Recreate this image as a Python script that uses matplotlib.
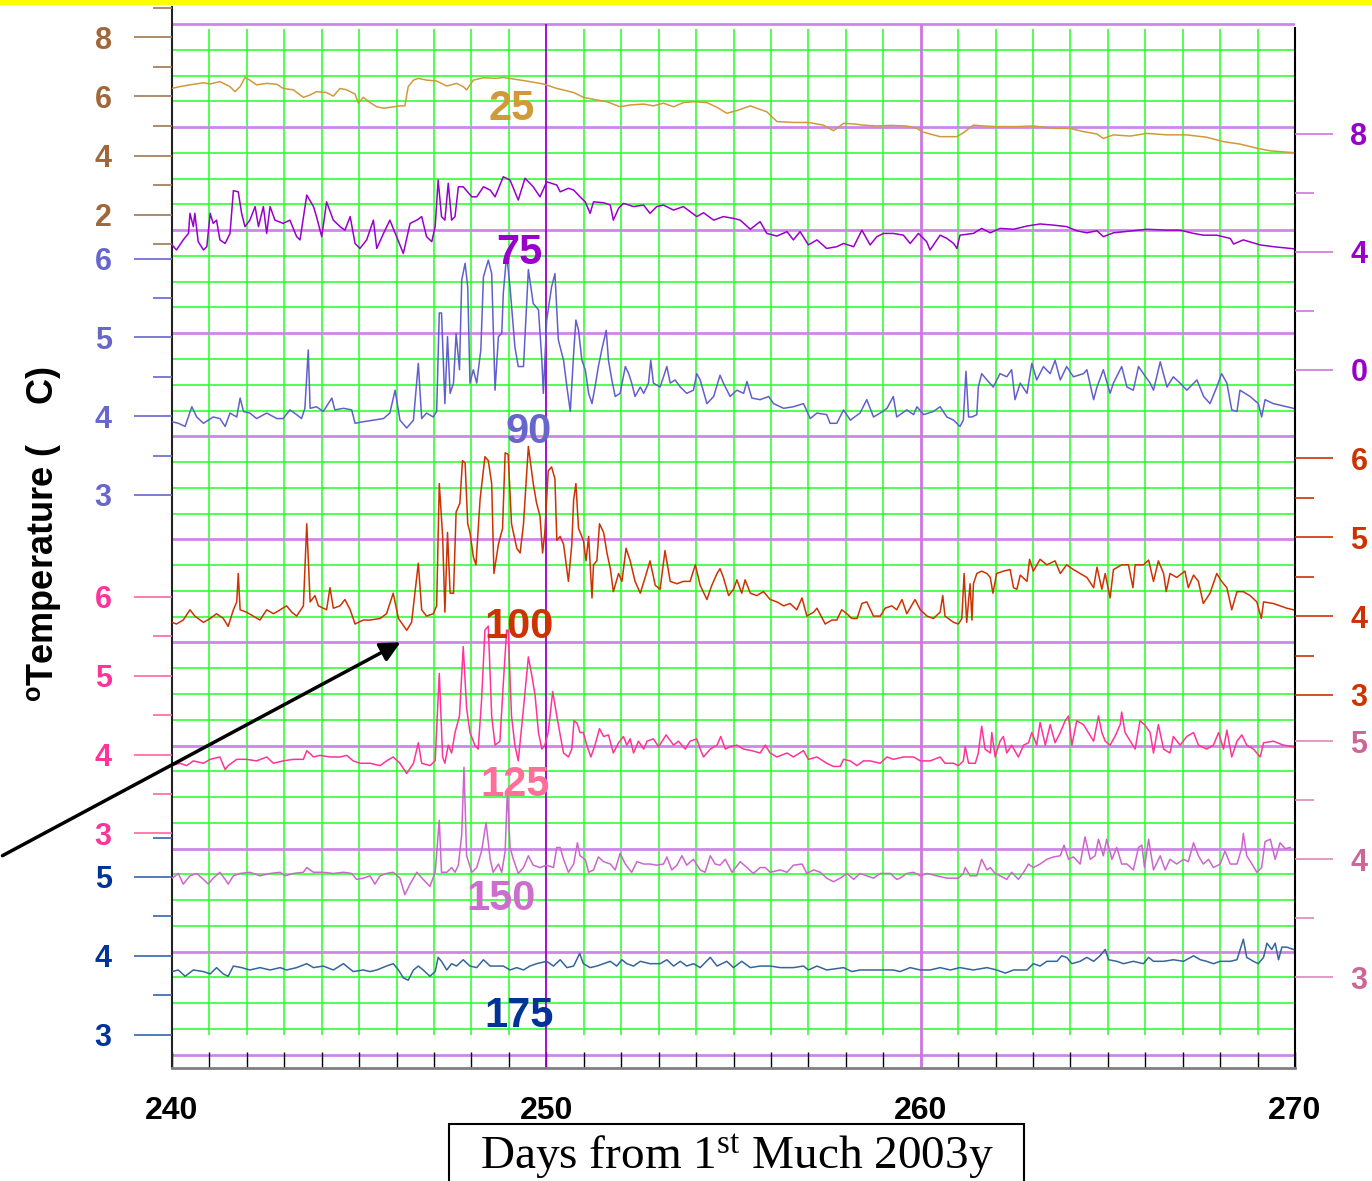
import numpy as np
import matplotlib
matplotlib.use('Agg')
import matplotlib.pyplot as plt
from matplotlib.patches import Rectangle, FancyArrowPatch

plt.rcParams['font.family'] = ['Liberation Sans', 'DejaVu Sans']
plt.rcParams['mathtext.fontset'] = 'custom'
plt.rcParams['mathtext.rm'] = 'Liberation Serif'
plt.rcParams['mathtext.it'] = 'Liberation Serif:italic'
plt.rcParams['mathtext.bf'] = 'Liberation Sans:bold'

# ---------------- data: (day, temperature) ----------------
pts25 = [(240.00,6.27),(240.21,6.33),(240.48,6.39),(240.84,6.46),(241.02,6.42),(241.28,6.50),(241.55,6.33),(241.68,6.16),
(241.82,6.33),(241.95,6.64),(242.08,6.55),(242.26,6.39),(242.53,6.44),(242.80,6.41),(242.97,6.27),(243.24,6.22),(243.51,5.97),
(243.69,6.05),(243.86,6.16),(244.13,6.13),(244.31,6.01),(244.49,6.27),(244.67,6.22),(244.89,6.08),(244.98,5.77),(245.11,5.97),
(245.29,5.79),(245.47,5.65),(245.65,5.60),(245.82,5.63),(246.09,5.68),(246.22,5.68),(246.31,6.33),(246.45,6.55),(246.58,6.61),
(246.80,6.55),(247.07,6.52),(247.34,6.35),(247.60,6.44),(247.78,6.33),(247.87,6.22),(248.05,6.55),(248.32,6.63),(248.67,6.61),
(248.85,6.64),(249.21,6.57),(249.56,6.50),(249.92,6.42),(250.28,6.27),(250.73,6.13),(250.99,5.97),(251.26,5.90),(251.62,5.82),
(251.97,5.65),(252.24,5.71),(252.60,5.74),(252.86,5.68),(253.13,5.77),(253.40,5.65),(253.66,5.79),(253.93,5.82),(254.29,5.79),
(254.56,5.63),(254.82,5.43),(255.09,5.52),(255.45,5.68),(255.62,5.60),(255.89,5.48),(256.16,5.15),(256.60,5.12),(257.00,5.12),
(257.40,5.03),(257.67,4.84),(257.94,5.09),(258.21,5.07),(258.47,5.03),(258.83,5.00),(259.19,5.02),(259.63,5.00),(259.90,4.92),
(260.03,4.81),(260.34,4.70),(260.52,4.64),(260.97,4.64),(261.14,4.77),(261.41,5.03),(261.68,5.00),(262.03,4.98),(262.57,4.98),
(263.01,5.00),(263.55,4.92),(263.99,4.92),(264.35,4.81),(264.71,4.73),(264.88,4.58),(265.15,4.70),(265.60,4.66),(266.04,4.75),
(266.58,4.70),(267.11,4.70),(267.64,4.62),(268.09,4.47),(268.53,4.39),(268.98,4.25),(269.34,4.16),(269.96,4.10)]

pts75 = [(240.00,4.23),(240.12,4.06),(240.30,4.40),(240.44,4.62),(240.48,5.30),(240.57,4.85),(240.61,5.30),(240.70,4.34),
(240.84,4.06),(240.93,4.17),(241.02,5.30),(241.10,4.96),(241.19,5.07),(241.28,4.40),(241.42,4.28),(241.55,4.62),(241.64,6.07),
(241.77,6.03),(241.86,5.30),(241.95,4.85),(242.08,5.07),(242.22,5.53),(242.31,4.85),(242.44,5.53),(242.53,4.62),(242.62,5.53),
(242.75,5.07),(242.97,4.96),(243.15,5.07),(243.33,4.51),(243.42,4.40),(243.60,5.92),(243.78,5.53),(243.86,5.19),(244.00,4.51),
(244.13,5.69),(244.31,5.07),(244.49,4.85),(244.62,4.73),(244.76,5.19),(244.89,4.28),(245.02,4.11),(245.20,4.40),(245.38,5.07),
(245.47,4.11),(245.65,4.62),(245.82,5.07),(246.00,4.51),(246.18,3.94),(246.36,4.96),(246.54,5.07),(246.67,5.19),(246.80,4.51),
(246.94,4.34),(247.03,4.85),(247.11,6.43),(247.20,5.19),(247.29,5.07),(247.38,6.32),(247.47,5.07),(247.56,5.19),(247.65,6.20),
(247.78,6.20),(248.01,5.86),(248.14,5.86),(248.32,6.20),(248.50,6.09),(248.63,5.86),(248.85,6.54),(249.03,6.43),(249.25,5.75),
(249.43,6.49),(249.65,6.20),(249.83,5.86),(250.01,6.37),(250.28,6.26),(250.37,6.03),(250.59,6.15),(250.73,6.09),(250.90,5.86),
(251.04,5.69),(251.17,5.30),(251.26,5.69),(251.53,5.66),(251.71,5.58),(251.79,5.07),(251.93,5.47),(252.06,5.64),(252.33,5.53),
(252.60,5.58),(252.77,5.30),(252.95,5.53),(253.13,5.58),(253.40,5.41),(253.66,5.53),(253.84,5.36),(254.02,5.19),(254.20,5.32),
(254.47,5.07),(254.73,5.19),(255.00,5.13),(255.18,5.07),(255.45,4.76),(255.71,5.02),(255.89,4.62),(256.16,4.53),(256.43,4.68),
(256.60,4.40),(256.78,4.68),(257.00,4.23),(257.23,4.40),(257.49,4.11),(257.76,4.17),(257.94,4.28),(258.21,4.17),(258.43,4.73),
(258.65,4.23),(258.83,4.51),(259.01,4.62),(259.27,4.62),(259.54,4.56),(259.72,4.28),(259.94,4.62),(260.16,4.34),(260.25,4.06),
(260.52,4.56),(260.70,4.45),(260.88,4.28),(260.97,4.11),(261.05,4.56),(261.41,4.62),(261.63,4.79),(261.86,4.64),(262.12,4.79),
(262.48,4.76),(262.84,4.87),(263.19,4.94),(263.55,4.90),(263.90,4.85),(264.17,4.71),(264.44,4.64),(264.71,4.71),(264.88,4.51),
(265.15,4.64),(265.60,4.70),(266.04,4.76),(266.58,4.73),(266.93,4.73),(267.29,4.62),(267.55,4.56),(267.91,4.56),(268.27,4.45),
(268.36,4.26),(268.62,4.40),(269.07,4.23),(269.42,4.17),(269.96,4.10)]

pts90 = [(240.00,3.93),(240.17,3.91),(240.35,3.87),(240.53,4.12),(240.66,3.99),(240.84,3.91),(241.10,3.99),(241.28,3.97),
(241.42,3.87),(241.55,4.04),(241.73,3.99),(241.82,4.23),(241.91,4.06),(242.08,4.04),(242.26,3.97),(242.53,4.04),(242.80,3.97),
(242.97,3.97),(243.15,4.08),(243.33,4.02),(243.46,3.97),(243.55,4.10),(243.64,4.84),(243.69,4.10),(243.86,4.12),(244.04,4.06),
(244.27,4.23),(244.35,4.08),(244.58,4.10),(244.80,4.08),(244.89,3.91),(245.11,3.93),(245.38,3.95),(245.65,3.97),(245.82,4.04),
(245.96,4.33),(246.09,3.95),(246.27,3.85),(246.45,3.95),(246.58,4.67),(246.67,3.97),(246.80,4.04),(246.98,3.99),(247.07,4.06),
(247.14,5.31),(247.20,5.31),(247.29,4.16),(247.36,5.01),(247.43,4.29),(247.52,4.42),(247.59,5.05),(247.68,4.59),(247.74,5.73),
(247.83,5.94),(247.90,5.64),(247.96,4.42),(248.05,4.59),(248.14,4.42),(248.25,4.84),(248.32,5.77),(248.45,5.98),(248.54,5.81),
(248.63,4.33),(248.72,5.01),(248.81,5.05),(248.85,5.56),(248.94,6.05),(249.03,5.64),(249.16,4.88),(249.25,4.63),(249.39,4.63),
(249.52,5.86),(249.65,5.43),(249.79,5.35),(249.88,4.71),(249.92,4.29),(250.01,5.22),(250.14,5.64),(250.23,5.81),(250.32,4.97),
(250.46,4.71),(250.55,4.37),(250.64,4.06),(250.73,4.80),(250.79,5.22),(250.86,5.09),(250.95,4.71),(251.04,4.59),(251.13,4.29),
(251.22,4.16),(251.30,4.37),(251.39,4.63),(251.48,4.84),(251.60,5.09),(251.66,4.71),(251.75,4.46),(251.84,4.25),(251.97,4.29),
(252.11,4.63),(252.20,4.54),(252.28,4.42),(252.37,4.25),(252.51,4.37),(252.60,4.29),(252.73,4.42),(252.79,4.71),(252.86,4.42),
(253.04,4.37),(253.22,4.63),(253.31,4.42),(253.44,4.46),(253.58,4.37),(253.75,4.29),(253.93,4.33),(254.02,4.54),(254.11,4.46),
(254.29,4.16),(254.47,4.25),(254.64,4.52),(254.73,4.42),(254.91,4.25),(255.09,4.33),(255.27,4.29),(255.36,4.44),(255.49,4.23),
(255.71,4.21),(255.94,4.25),(256.07,4.16),(256.34,4.10),(256.60,4.12),(256.87,4.16),(257.05,3.97),(257.23,4.04),(257.49,4.02),
(257.58,3.91),(257.76,3.91),(257.94,4.08),(258.12,3.95),(258.38,4.04),(258.56,4.21),(258.74,3.99),(258.92,4.04),(259.10,4.10),
(259.27,4.25),(259.36,3.99),(259.63,4.08),(259.81,4.02),(259.90,4.12),(260.08,4.02),(260.34,4.06),(260.52,4.12),(260.70,3.99),
(260.88,3.95),(261.05,3.87),(261.14,3.95),(261.21,4.57),(261.28,3.99),(261.37,3.99),(261.50,4.02),(261.54,4.37),(261.63,4.54),
(261.77,4.46),(261.94,4.37),(262.12,4.54),(262.30,4.50),(262.43,4.59),(262.52,4.21),(262.66,4.42),(262.84,4.29),(262.97,4.67),
(263.10,4.46),(263.28,4.63),(263.46,4.54),(263.59,4.71),(263.73,4.46),(263.90,4.63),(264.08,4.50),(264.35,4.54),(264.44,4.59),
(264.62,4.21),(264.71,4.37),(264.88,4.59),(265.06,4.29),(265.15,4.42),(265.37,4.63),(265.51,4.37),(265.68,4.33),(265.82,4.63),
(265.95,4.54),(266.13,4.42),(266.22,4.33),(266.40,4.69),(266.58,4.37),(266.75,4.50),(266.93,4.42),(267.11,4.33),(267.38,4.46),
(267.56,4.25),(267.73,4.16),(267.91,4.37),(268.04,4.54),(268.18,4.42),(268.31,4.08),(268.45,4.06),(268.53,4.33),(268.80,4.25),
(269.02,4.16),(269.11,3.99),(269.20,4.21),(269.42,4.16),(269.78,4.12),(269.96,4.10)]

pts100 = [(240.00,3.92),(240.12,3.90),(240.30,3.95),(240.48,4.08),(240.61,4.00),(240.84,3.92),(241.02,3.97),(241.19,4.03),
(241.37,3.97),(241.50,3.87),(241.64,4.08),(241.73,4.18),(241.77,4.54),(241.82,4.08),(241.99,4.05),(242.17,4.00),(242.35,3.95),
(242.53,4.08),(242.71,4.03),(242.89,4.08),(243.06,4.13),(243.20,4.05),(243.33,4.00),(243.51,4.13),(243.60,5.17),(243.69,4.18),
(243.82,4.26),(243.91,4.13),(244.13,4.08),(244.22,4.36),(244.31,4.10),(244.49,4.13),(244.62,4.21),(244.76,4.08),(244.89,3.90),
(245.11,3.95),(245.29,3.95),(245.56,3.97),(245.73,4.03),(245.91,4.29),(246.05,3.97),(246.27,3.82),(246.40,3.92),(246.58,4.67),
(246.67,4.08),(246.80,4.00),(246.98,4.03),(247.07,4.13),(247.14,5.68),(247.23,5.01),(247.29,4.05),(247.36,5.06),(247.43,4.29),
(247.52,4.29),(247.59,5.32),(247.69,5.43),(247.76,5.97),(247.83,5.94),(247.90,5.17),(247.96,5.06),(248.05,4.75),(248.12,4.65),
(248.23,5.48),(248.36,6.02),(248.45,5.97),(248.54,5.68),(248.60,4.54),(248.72,4.91),(248.83,5.11),(248.90,6.07),(248.98,6.05),
(249.07,5.17),(249.21,4.86),(249.30,4.80),(249.39,5.17),(249.52,6.15),(249.65,5.68),(249.74,5.43),(249.83,5.27),(249.90,4.80),
(249.96,5.06),(250.05,5.84),(250.14,5.89),(250.23,5.74),(250.28,4.96),(250.37,5.01),(250.46,4.91),(250.59,4.44),(250.68,4.91),
(250.73,5.48),(250.79,5.68),(250.86,5.11),(250.99,4.96),(251.06,4.70),(251.13,5.01),(251.22,4.23),(251.26,4.65),(251.35,4.70),
(251.42,5.17),(251.53,5.06),(251.62,4.80),(251.71,4.60),(251.79,4.31),(251.93,4.54),(252.02,4.44),(252.13,4.86),(252.24,4.70),
(252.37,4.44),(252.51,4.29),(252.64,4.49),(252.77,4.70),(252.91,4.39),(253.04,4.34),(253.17,4.83),(253.31,4.44),(253.49,4.41),
(253.66,4.44),(253.84,4.44),(253.98,4.65),(254.11,4.39),(254.29,4.21),(254.42,4.39),(254.56,4.54),(254.64,4.60),(254.73,4.49),
(254.87,4.26),(255.00,4.34),(255.09,4.46),(255.22,4.29),(255.31,4.46),(255.45,4.29),(255.62,4.26),(255.80,4.31),(255.98,4.21),
(256.16,4.18),(256.34,4.13),(256.51,4.16),(256.69,4.08),(256.83,4.23),(256.96,4.00),(257.14,4.05),(257.23,4.10),(257.45,3.90),
(257.63,3.95),(257.76,3.95),(257.89,4.08),(258.03,4.03),(258.16,3.97),(258.30,3.97),(258.43,4.16),(258.56,4.18),(258.74,4.00),
(258.92,4.00),(259.05,4.10),(259.23,4.13),(259.36,4.08),(259.50,4.21),(259.63,4.03),(259.85,4.21),(259.99,4.08),(260.17,4.00),
(260.34,3.97),(260.52,4.05),(260.59,4.26),(260.65,4.00),(260.88,3.92),(261.01,3.90),(261.10,3.97),(261.16,4.54),(261.23,3.92),
(261.32,4.41),(261.37,3.95),(261.41,4.41),(261.50,4.54),(261.63,4.57),(261.77,4.54),(261.86,4.49),(261.93,4.29),(262.03,4.54),
(262.21,4.57),(262.39,4.59),(262.48,4.36),(262.57,4.34),(262.66,4.52),(262.84,4.44),(262.91,4.72),(263.01,4.57),(263.19,4.72),
(263.37,4.65),(263.59,4.70),(263.73,4.54),(263.90,4.65),(264.08,4.59),(264.26,4.54),(264.44,4.49),(264.62,4.36),(264.71,4.62),
(264.84,4.34),(264.93,4.54),(265.06,4.23),(265.15,4.59),(265.37,4.65),(265.55,4.65),(265.67,4.36),(265.73,4.65),(265.95,4.65),
(266.09,4.71),(266.22,4.44),(266.35,4.70),(266.49,4.54),(266.56,4.31),(266.66,4.54),(266.84,4.49),(267.06,4.57),(267.15,4.36),
(267.29,4.52),(267.42,4.44),(267.55,4.16),(267.73,4.29),(267.91,4.54),(268.04,4.44),(268.18,4.36),(268.31,4.08),(268.45,4.31),
(268.62,4.31),(268.80,4.26),(268.98,4.18),(269.10,3.97),(269.16,4.18),(269.42,4.16),(269.78,4.10),(269.96,4.08)]

pts125 = [(240.00,3.86),(240.21,3.89),(240.39,3.86),(240.57,3.92),(240.84,3.89),(241.02,3.94),(241.28,3.97),(241.42,3.81),
(241.50,3.86),(241.73,3.94),(241.99,3.94),(242.26,3.92),(242.53,3.97),(242.71,3.89),(242.97,3.92),(243.24,3.94),(243.51,3.94),
(243.60,4.05),(243.78,3.97),(243.95,3.99),(244.22,3.97),(244.49,3.97),(244.67,3.99),(244.84,3.92),(245.02,3.89),(245.29,3.89),
(245.56,3.86),(245.73,3.92),(245.91,3.97),(246.09,3.89),(246.27,3.76),(246.45,3.89),(246.58,4.15),(246.67,3.89),(246.89,3.86),
(247.03,3.92),(247.14,5.03),(247.23,3.97),(247.29,3.89),(247.38,4.12),(247.47,4.02),(247.56,4.28),(247.68,4.49),(247.78,5.37),
(247.87,4.59),(247.96,4.28),(248.09,4.12),(248.18,4.07),(248.27,4.69),(248.36,5.58),(248.45,5.63),(248.54,4.49),(248.63,4.12),
(248.76,4.17),(248.85,4.90),(248.94,5.58),(248.98,5.58),(249.07,4.49),(249.16,4.12),(249.25,3.92),(249.39,4.59),(249.52,5.24),
(249.61,5.01),(249.70,4.75),(249.79,4.28),(249.88,4.07),(249.96,4.12),(250.05,4.28),(250.17,4.80),(250.28,4.49),(250.37,4.25),
(250.46,4.02),(250.59,3.97),(250.68,4.07),(250.74,4.43),(250.82,4.40),(250.90,4.28),(250.99,4.28),(251.08,4.12),(251.19,3.97),
(251.30,4.12),(251.42,4.33),(251.53,4.23),(251.66,4.25),(251.79,4.02),(251.93,4.15),(252.06,4.23),(252.15,4.12),(252.24,4.20),
(252.33,4.02),(252.46,4.17),(252.60,4.07),(252.69,4.17),(252.86,4.20),(253.00,4.10),(253.20,4.25),(253.40,4.12),(253.53,4.17),
(253.71,4.07),(253.84,4.17),(254.02,4.20),(254.11,4.07),(254.20,3.97),(254.38,4.07),(254.56,4.12),(254.66,4.23),(254.78,4.07),
(254.91,4.10),(255.09,4.12),(255.27,4.07),(255.49,4.05),(255.71,4.02),(255.85,4.12),(255.98,4.02),(256.16,3.97),(256.43,4.02),
(256.60,3.97),(256.87,4.05),(257.00,3.94),(257.23,3.97),(257.49,3.89),(257.67,3.85),(257.85,3.85),(257.94,3.94),(258.12,3.92),
(258.30,3.86),(258.47,3.92),(258.65,3.92),(258.92,3.89),(259.10,3.97),(259.27,3.94),(259.54,3.97),(259.81,3.97),(259.99,3.92),
(260.25,3.92),(260.52,3.97),(260.65,3.89),(260.88,3.89),(261.01,3.86),(261.14,3.92),(261.19,4.10),(261.28,3.89),(261.46,3.89),
(261.54,4.02),(261.63,4.36),(261.72,4.07),(261.86,4.02),(261.90,4.28),(261.99,3.97),(262.12,4.17),(262.21,4.23),(262.30,4.02),
(262.43,4.12),(262.61,3.97),(262.75,4.12),(262.88,4.15),(262.97,4.28),(263.10,4.12),(263.19,4.41),(263.33,4.12),(263.46,4.38),
(263.59,4.15),(263.73,4.28),(263.86,4.43),(263.95,4.49),(264.04,4.12),(264.17,4.43),(264.35,4.38),(264.48,4.28),(264.62,4.17),
(264.75,4.49),(264.84,4.28),(264.93,4.17),(265.06,4.12),(265.19,4.23),(265.33,4.38),(265.37,4.54),(265.46,4.28),(265.60,4.17),
(265.73,4.07),(265.86,4.43),(265.98,4.38),(266.13,4.28),(266.22,4.02),(266.35,4.38),(266.49,4.07),(266.66,4.02),(266.75,4.23),
(266.93,4.12),(267.11,4.23),(267.29,4.28),(267.42,4.12),(267.64,4.07),(267.82,4.12),(267.96,4.28),(268.09,4.07),(268.18,4.31),
(268.31,3.97),(268.45,4.17),(268.58,4.25),(268.71,4.12),(268.89,4.07),(269.07,3.97),(269.16,4.15),(269.42,4.17),(269.69,4.12),
(269.96,4.10)]

pts150 = [(240.00,3.84),(240.17,3.88),(240.30,3.79),(240.48,3.86),(240.66,3.88),(240.84,3.83),(240.97,3.79),(241.10,3.84),
(241.28,3.89),(241.42,3.83),(241.50,3.79),(241.64,3.86),(241.82,3.88),(242.08,3.89),(242.35,3.86),(242.62,3.88),(242.89,3.89),
(243.02,3.86),(243.24,3.88),(243.51,3.89),(243.60,3.93),(243.78,3.89),(244.04,3.89),(244.31,3.88),(244.58,3.89),(244.80,3.88),
(244.93,3.83),(245.11,3.84),(245.29,3.86),(245.42,3.79),(245.56,3.86),(245.73,3.88),(245.91,3.89),(246.09,3.84),(246.22,3.70),
(246.36,3.79),(246.54,3.89),(246.71,3.83),(246.89,3.77),(247.03,3.89),(247.14,4.33),(247.20,3.89),(247.34,3.89),(247.47,3.93),
(247.56,3.89),(247.65,3.95),(247.74,4.21),(247.80,4.78),(247.87,4.03),(248.01,3.89),(248.14,3.93),(248.27,4.07),(248.39,4.31),
(248.50,4.00),(248.58,3.89),(248.72,3.96),(248.81,3.89),(248.90,4.07),(248.96,4.59),(249.03,4.10),(249.12,4.00),(249.25,3.88),
(249.39,3.93),(249.52,4.03),(249.65,3.95),(249.83,3.93),(250.01,3.95),(250.19,3.93),(250.28,4.10),(250.37,4.10),(250.46,4.00),
(250.59,3.89),(250.73,3.96),(250.83,4.14),(250.90,4.03),(251.04,4.00),(251.13,3.89),(251.26,3.91),(251.39,4.02),(251.53,3.98),
(251.71,3.96),(251.84,3.91),(251.97,4.05),(252.11,3.96),(252.28,3.89),(252.42,3.98),(252.60,3.96),(252.77,3.96),(252.95,3.95),
(253.13,3.96),(253.22,4.02),(253.35,3.91),(253.49,3.95),(253.62,4.03),(253.75,3.95),(253.93,4.00),(254.11,3.91),(254.24,3.89),
(254.38,4.03),(254.51,3.96),(254.64,3.95),(254.78,4.00),(254.96,3.89),(255.18,3.98),(255.36,3.93),(255.53,3.88),(255.71,3.93),
(255.85,3.93),(255.98,3.89),(256.25,3.91),(256.43,3.89),(256.60,3.95),(256.83,3.96),(256.96,3.88),(257.14,3.91),(257.32,3.89),
(257.49,3.84),(257.67,3.81),(257.85,3.84),(258.03,3.88),(258.21,3.83),(258.38,3.88),(258.56,3.86),(258.74,3.84),(258.92,3.88),
(259.19,3.88),(259.36,3.83),(259.45,3.84),(259.63,3.88),(259.81,3.89),(259.99,3.86),(260.17,3.88),(260.43,3.86),(260.70,3.84),
(261.01,3.84),(261.14,3.88),(261.19,3.93),(261.32,3.86),(261.50,3.86),(261.63,4.00),(261.77,3.91),(261.86,3.93),(261.99,3.88),
(262.12,3.86),(262.30,3.83),(262.43,3.89),(262.61,3.83),(262.75,3.89),(262.88,3.96),(263.01,3.93),(263.19,3.96),(263.37,4.00),
(263.55,4.02),(263.73,4.03),(263.83,4.12),(263.95,4.00),(264.08,4.02),(264.26,3.96),(264.39,4.19),(264.53,4.00),(264.66,4.03),
(264.75,4.17),(264.88,4.03),(264.97,4.17),(265.11,4.00),(265.24,4.10),(265.37,3.96),(265.51,3.96),(265.68,3.91),(265.82,4.10),
(265.91,4.12),(265.98,3.93),(266.09,4.17),(266.22,3.91),(266.40,4.03),(266.53,3.91),(266.66,4.00),(266.84,3.96),(267.02,4.00),
(267.15,3.98),(267.29,4.14),(267.42,4.03),(267.55,3.96),(267.69,4.00),(267.82,3.93),(268.00,3.96),(268.13,4.07),(268.27,3.96),
(268.45,3.96),(268.58,4.10),(268.62,4.22),(268.71,4.03),(268.85,3.96),(268.98,3.89),(269.11,3.93),(269.20,4.15),(269.34,4.17),
(269.47,4.00),(269.60,4.14),(269.74,4.09),(269.87,4.10)]

pts175 = [(240.00,3.80),(240.17,3.82),(240.35,3.74),(240.57,3.82),(240.84,3.80),(241.02,3.77),(241.19,3.85),(241.37,3.77),
(241.50,3.74),(241.64,3.87),(241.86,3.85),(242.08,3.82),(242.35,3.85),(242.62,3.82),(242.89,3.85),(243.06,3.82),(243.33,3.85),
(243.60,3.90),(243.78,3.85),(244.04,3.87),(244.31,3.82),(244.58,3.90),(244.84,3.80),(245.11,3.82),(245.29,3.80),(245.47,3.82),
(245.73,3.87),(245.91,3.90),(246.05,3.82),(246.18,3.72),(246.31,3.69),(246.45,3.82),(246.58,3.87),(246.71,3.82),(246.89,3.74),
(247.03,3.80),(247.11,3.98),(247.20,3.93),(247.34,3.82),(247.47,3.90),(247.60,3.87),(247.78,3.95),(247.96,3.87),(248.14,3.85),
(248.32,3.95),(248.50,3.87),(248.67,3.87),(248.85,3.87),(249.03,3.82),(249.21,3.85),(249.39,3.82),(249.56,3.87),(249.74,3.90),
(250.01,3.93),(250.19,3.87),(250.37,3.95),(250.55,3.85),(250.73,3.87),(250.89,4.03),(250.99,3.90),(251.17,3.85),(251.35,3.87),
(251.53,3.90),(251.71,3.93),(251.88,3.87),(252.02,3.95),(252.15,3.90),(252.33,3.87),(252.51,3.93),(252.77,3.90),(253.04,3.90),
(253.22,3.95),(253.40,3.87),(253.58,3.93),(253.75,3.87),(253.93,3.90),(254.11,3.85),(254.38,3.98),(254.56,3.87),(254.82,3.93),
(255.00,3.85),(255.22,3.93),(255.45,3.85),(255.71,3.87),(255.98,3.87),(256.25,3.85),(256.60,3.85),(256.87,3.87),(257.00,3.82),
(257.23,3.87),(257.49,3.82),(257.94,3.85),(258.16,3.80),(258.38,3.82),(258.74,3.82),(259.01,3.82),(259.27,3.82),(259.45,3.80),
(259.72,3.85),(259.99,3.82),(260.25,3.82),(260.52,3.85),(260.79,3.82),(261.05,3.85),(261.41,3.82),(261.77,3.85),(262.03,3.82),
(262.26,3.78),(262.48,3.82),(262.84,3.82),(263.01,3.90),(263.19,3.87),(263.37,3.93),(263.64,3.93),(263.77,4.00),(263.90,3.98),
(264.04,3.90),(264.26,3.93),(264.44,3.98),(264.62,3.93),(264.79,4.00),(264.93,4.08),(265.02,3.95),(265.24,3.93),(265.42,3.90),
(265.68,3.93),(265.95,3.90),(266.09,3.98),(266.22,3.93),(266.49,3.93),(266.75,3.95),(267.02,3.93),(267.29,4.00),(267.47,3.95),
(267.64,3.93),(267.82,3.90),(268.00,3.93),(268.27,3.93),(268.45,3.95),(268.62,4.21),(268.71,3.98),(268.89,3.93),(269.02,3.90),
(269.16,3.98),(269.25,4.16),(269.38,4.08),(269.47,4.16),(269.56,3.95),(269.65,4.11),(269.78,4.11),(269.96,4.08)]

depth_labels = ['25', '75', '90', '100', '125', '150', '175']
x_major = [240, 250, 260, 270]
x_title = r'Days from 1$^{\mathrm{st}}$ Much 2003y'
y_title = r'$^{\mathbf{o}}$Temperature (    C)'

# ---------------- layout ----------------
W, H = 1372, 1181
fig = plt.figure(figsize=(W / 100, H / 100), dpi=100)
fig.patch.set_facecolor('white')

def fx(px):
    return px / W

def fy(py):
    return 1 - py / H

TOP, BOT, LEFT, RIGHT = 7, 1068, 172, 1295
ax = fig.add_axes([fx(LEFT), fy(BOT), (RIGHT - LEFT) / W, (BOT - TOP) / H])
ax.set_xlim(240, 270)
ax.set_ylim(BOT, TOP)
ax.patch.set_facecolor('white')

GREEN = '#33FF33'
PURP = '#CC88E8'
gy = 24 + 25.77 * np.arange(41)
ax.hlines([y for k, y in enumerate(gy) if k % 4], 240, 270, colors=GREEN, lw=1.2, zorder=1)
ax.hlines(gy[::4], 240, 270, colors=PURP, lw=2.0, zorder=1.5)
gdays = [d for d in range(241, 270) if d not in (250, 260)]
ax.vlines(gdays, 29, 1035, colors=GREEN, lw=1.2, zorder=1)
ax.vlines([250], 24, BOT, colors='#9900CC', lw=1.3, zorder=1.6)
ax.vlines([260], 24, BOT, colors='#CC77DD', lw=2.0, zorder=1.6)

ax.set_xticks(x_major)
ax.set_xticklabels([str(v) for v in x_major], fontsize=23, fontweight='bold')
ax.set_xticks(np.arange(240, 271), minor=True)
ax.tick_params(axis='x', which='both', direction='in', length=11.5, width=1.0,
               color='black', pad=20)
ax.set_yticks([])
ax.spines['top'].set_visible(False)
ax.spines['left'].set_color('#222222')
ax.spines['left'].set_linewidth(1.5)
ax.spines['right'].set_color('black')
ax.spines['right'].set_linewidth(1.5)
ax.spines['right'].set_bounds(BOT, 28)
ax.spines['bottom'].set_color('#808080')
ax.spines['bottom'].set_linewidth(2)


def make_twin(side, v0, p0, ppu, major, minor, lab_color, tick_color):
    tw = ax.twinx()
    hi = v0 + (p0 - TOP) / ppu
    lo = v0 - (BOT - p0) / ppu
    tw.set_ylim(lo, hi)
    for s in tw.spines.values():
        s.set_visible(False)
    if side == 'left':
        tw.yaxis.tick_left()
        pad = 16
    else:
        tw.yaxis.tick_right()
        pad = 12.5
    tw.set_yticks(major)
    tw.set_yticklabels([f'{m:g}' for m in major], fontsize=22, fontweight='bold', color=lab_color)
    tw.set_yticks(minor, minor=True)
    tw.tick_params(axis='y', which='major', length=27.4, width=1.2, color=tick_color,
                   pad=pad, direction='out')
    tw.tick_params(axis='y', which='minor', length=13.7, width=1.2, color=tick_color,
                   direction='out')
    return tw


series = [
    # pts, side, v0, p0, ppu, major, minor, label color, tick color, line color, label pos, label color
    (pts25, 'left', 8, 37.2, 29.6, [2, 4, 6, 8], [1, 3, 5, 7, 9], '#A0683A', '#A07850', '#D09A3C', (512, 108.5), '#D19A38'),
    (pts75, 'right', 8, 133.7, 29.5, [0, 4, 8], [2, 6], '#9900CC', '#CC77DD', '#9900CC', (519, 252.5), '#9900CC'),
    (pts90, 'left', 6, 258.6, 78.8, [3, 4, 5, 6], [3.5, 4.5, 5.5], '#6666CC', '#6666CC', '#6060CC', (529, 432.5), '#6666CC'),
    (pts100, 'right', 6, 458.3, 78.9, [3, 4, 5, 6], [3.5, 4.5, 5.5], '#CC3300', '#CC3300', '#CC3300', (519, 626.5), '#CC3300'),
    (pts125, 'left', 6, 597.0, 78.8, [3, 4, 5, 6], [3.5, 4.5, 5.5], '#FF3399', '#FF66A0', '#FF3399', (515, 785), '#FF6F9A'),
    (pts150, 'right', 5, 741.3, 118.0, [3, 4, 5], [3.5, 4.5], '#CC6699', '#DD88BB', '#CC66CC', (501.5, 898.5), '#CC6FCC'),
    (pts175, 'left', 5, 877.0, 78.8, [3, 4, 5], [3.5, 4.5, 5.5], '#003399', '#3366AA', '#336699', (519, 1016), '#003399'),
]

for (pts, side, v0, p0, ppu, major, minor, lc, tc, linec, lpos, txtc), name in zip(series, depth_labels):
    tw = make_twin(side, v0, p0, ppu, major, minor, lc, tc)
    d = np.array([p[0] for p in pts])
    t = np.array([p[1] for p in pts])
    tw.plot(d, t, color=linec, lw=1.1, zorder=3)
    fig.text(fx(lpos[0]), fy(lpos[1]), name, ha='center', va='center', fontsize=30,
             fontweight='bold', color=txtc)

# axis titles (degree sign drawn as a raised bold "o" before the text, as in the source)
fig.text(fx(44), fy(534), y_title, rotation=90, ha='center', va='center',
         fontsize=26, fontweight='bold', color='black')

fig.add_artist(Rectangle((fx(449), fy(1195)), (1024 - 449) / W, (1195 - 1124) / H,
                         transform=fig.transFigure, fill=False, edgecolor='black', lw=1.5))
fig.text(fx(736.5), fy(1168), x_title, family='Liberation Serif', fontsize=34,
         ha='center', va='baseline', color='black')

# yellow band at the top
fig.add_artist(Rectangle((0, fy(5)), 1, 5 / H, transform=fig.transFigure,
                         facecolor='#FFFF00', edgecolor='none'))

# arrow
fig.add_artist(FancyArrowPatch((fx(0), fy(857)), (fx(403), fy(641)), transform=fig.transFigure,
                               arrowstyle='-|>', mutation_scale=30, lw=2.5, color='black',
                               zorder=10))

fig.savefig('out.png', dpi=100)
